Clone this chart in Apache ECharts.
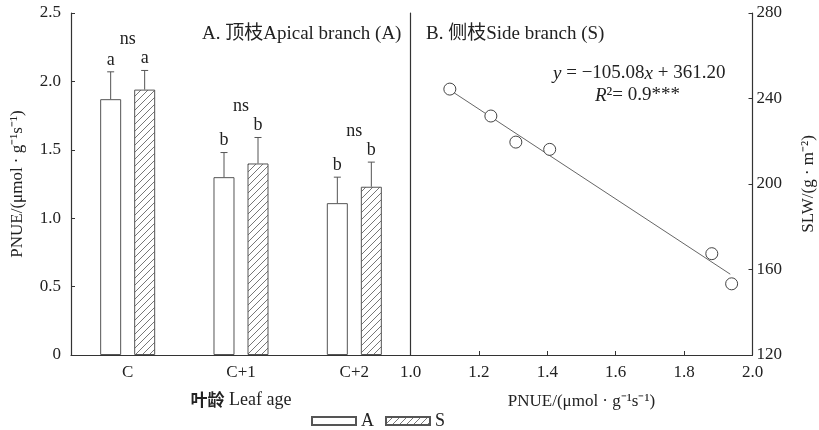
<!DOCTYPE html>
<html><head><meta charset="utf-8">
<script src="https://cdn.jsdelivr.net/npm/echarts@6/dist/echarts.min.js"></script>
<style>html,body{margin:0;padding:0;background:#fff}#c{width:819px;height:430px}</style>
</head><body><div id="c"></div>
<script>
// ---- data ----
const categories = ['C', 'C+1', 'C+2'];
const apicalMean = [1.87, 1.30, 1.11];
const apicalErrTop = [2.07, 1.48, 1.30];
const sideMean = [1.94, 1.40, 1.23];
const sideErrTop = [2.08, 1.59, 1.41];
const apicalSig = ['a', 'b', 'b'];
const sideSig = ['a', 'b', 'b'];
const groupSig = ['ns', 'ns', 'ns'];
const leftTickLabels = ['0', '0.5', '1.0', '1.5', '2.0', '2.5'];
const rightXTickLabels = ['1.0', '1.2', '1.4', '1.6', '1.8', '2.0'];
const scatterX = [1.115, 1.235, 1.308, 1.407, 1.881, 1.939];
const scatterY = [244.4, 231.8, 219.6, 216.2, 167.4, 153.3];
const fitX = [1.11, 1.935];
const fitY = [244.5, 157.8];

const SERIF = '"Liberation Serif","Noto Sans CJK SC",serif';
const TXT = '#222';
const AX = '#333';

function hatchPattern() {
  const s = 7;
  const c = document.createElement('canvas');
  c.width = s; c.height = s;
  const g = c.getContext('2d');
  g.fillStyle = '#fff'; g.fillRect(0, 0, s, s);
  g.strokeStyle = '#777'; g.lineWidth = 1;
  g.beginPath();
  g.moveTo(0, s); g.lineTo(s, 0);
  g.moveTo(-1, 1); g.lineTo(1, -1);
  g.moveTo(s - 1, s + 1); g.lineTo(s + 1, s - 1);
  g.stroke();
  return { image: c, repeat: 'repeat' };
}
const hatch = hatchPattern();

const BAR_OFF = 17;
function errRender(offset, tops, sigs, showGroup) {
  return function (params, api) {
    const i = api.value(0);
    const top = api.coord([i, api.value(2)]);
    const base = api.coord([i, api.value(1)]);
    const x = top[0] + offset;
    const children = [
      { type: 'line', shape: { x1: x, y1: base[1], x2: x, y2: top[1] }, style: { stroke: '#555', lineWidth: 1 } },
      { type: 'line', shape: { x1: x - 3.5, y1: top[1], x2: x + 3.5, y2: top[1] }, style: { stroke: '#555', lineWidth: 1 } },
      { type: 'text', style: { text: sigs[i], x: x, y: top[1] - 3, align: 'center', verticalAlign: 'bottom', fill: TXT, font: '18px ' + SERIF } }
    ];
    if (showGroup) {
      const m = Math.max(apicalErrTop[i], sideErrTop[i]);
      const p = api.coord([i, m]);
      children.push({ type: 'text', style: { text: groupSig[i], x: top[0], y: p[1] - 22, align: 'center', verticalAlign: 'bottom', fill: TXT, font: '18px ' + SERIF } });
    }
    return { type: 'group', children: children };
  };
}

const chart = echarts.init(document.getElementById('c'));
chart.setOption({
  animation: false,
  backgroundColor: '#fff',
  textStyle: { fontFamily: SERIF, color: TXT },
  grid: [
    { left: 71, right: 408, top: 13, bottom: 75 },
    { left: 410.5, right: 66.5, top: 13, bottom: 75 }
  ],
  legend: {
    data: ['A', 'S'], left: 311, top: 412, icon: 'rect', padding: 0,
    itemWidth: 44, itemHeight: 8, itemGap: 11,
    textStyle: { fontSize: 18, fontFamily: SERIF, color: TXT }
  },
  xAxis: [
    {
      type: 'category', gridIndex: 0, data: categories,
      axisLine: { lineStyle: { color: AX, width: 1.2 } },
      axisTick: { inside: true, alignWithLabel: true, length: 4, lineStyle: { color: AX } },
      axisLabel: { fontSize: 17, color: TXT, fontFamily: SERIF, margin: 9 },
      name: '{b|叶龄} Leaf age', nameLocation: 'middle', nameGap: 36,
      nameTextStyle: { fontSize: 18, color: TXT, fontFamily: SERIF, rich: { b: { fontSize: 17, fontWeight: 'bold', fontFamily: '"Noto Sans CJK SC",sans-serif', color: TXT } } }
    },
    {
      type: 'value', gridIndex: 1, min: 1.0, max: 2.0, interval: 0.2,
      axisLine: { lineStyle: { color: AX, width: 1.2 } },
      axisTick: { inside: true, length: 4, lineStyle: { color: AX } },
      splitLine: { show: false },
      axisLabel: { fontSize: 17, color: TXT, fontFamily: SERIF, margin: 9,
        formatter: function (v) { return rightXTickLabels[Math.round((v - 1.0) / 0.2)]; } },
      name: 'PNUE/(μmol · g⁻¹s⁻¹)', nameLocation: 'middle', nameGap: 38,
      nameTextStyle: { fontSize: 17, color: TXT, fontFamily: SERIF }
    }
  ],
  yAxis: [
    {
      type: 'value', gridIndex: 0, min: 0, max: 2.5, interval: 0.5,
      axisLine: { show: true, lineStyle: { color: AX, width: 1.2 } },
      axisTick: { show: true, inside: true, length: 4, lineStyle: { color: AX } },
      splitLine: { show: false },
      axisLabel: { fontSize: 17, color: TXT, fontFamily: SERIF, margin: 10,
        formatter: function (v) { return leftTickLabels[Math.round(v / 0.5)]; } },
      name: 'PNUE/(μmol · g⁻¹s⁻¹)', nameLocation: 'middle', nameGap: 45, nameRotate: 90,
      nameTextStyle: { fontSize: 17, color: TXT, fontFamily: SERIF }
    },
    {
      type: 'value', gridIndex: 1, position: 'right', min: 120, max: 280, interval: 40,
      axisLine: { show: true, lineStyle: { color: AX, width: 1.2 } },
      axisTick: { show: true, inside: true, length: 4, lineStyle: { color: AX } },
      splitLine: { show: false },
      axisLabel: { fontSize: 17, color: TXT, fontFamily: SERIF, margin: 4 },
      name: 'SLW/(g · m⁻²)', nameLocation: 'middle', nameGap: 48, nameRotate: 90,
      nameTextStyle: { fontSize: 17, color: TXT, fontFamily: SERIF }
    },
    {
      type: 'value', gridIndex: 1, position: 'left', min: 120, max: 280,
      axisLine: { show: true, lineStyle: { color: AX, width: 1.2 } },
      axisTick: { show: false }, axisLabel: { show: false }, splitLine: { show: false }
    }
  ],
  series: [
    {
      name: 'A', type: 'bar', xAxisIndex: 0, yAxisIndex: 0, data: apicalMean,
      barWidth: 21, barGap: '62%',
      itemStyle: { color: '#fff', borderColor: '#555', borderWidth: 1 }
    },
    {
      name: 'S', type: 'bar', xAxisIndex: 0, yAxisIndex: 0, data: sideMean,
      barWidth: 21, barGap: '62%',
      itemStyle: { color: hatch, borderColor: '#555', borderWidth: 1 }
    },
    {
      type: 'custom', xAxisIndex: 0, yAxisIndex: 0, z: 5,
      data: categories.map((c, i) => [i, apicalMean[i], apicalErrTop[i]]),
      renderItem: errRender(-BAR_OFF, apicalErrTop, apicalSig, false)
    },
    {
      type: 'custom', xAxisIndex: 0, yAxisIndex: 0, z: 5,
      data: categories.map((c, i) => [i, sideMean[i], sideErrTop[i]]),
      renderItem: errRender(BAR_OFF, sideErrTop, sideSig, true)
    },
    {
      type: 'line', xAxisIndex: 1, yAxisIndex: 1, symbol: 'none', z: 2,
      data: fitX.map((x, i) => [x, fitY[i]]),
      lineStyle: { color: '#666', width: 1 }
    },
    {
      type: 'scatter', xAxisIndex: 1, yAxisIndex: 1, z: 3, symbolSize: 12,
      data: scatterX.map((x, i) => [x, scatterY[i]]),
      itemStyle: { color: '#fff', borderColor: '#444', borderWidth: 1, opacity: 1 }
    }
  ],
  graphic: [
    { type: 'text', left: 202, top: 25, style: { text: 'A. 顶枝Apical branch (A)', fill: TXT, font: '19px ' + SERIF } },
    { type: 'text', left: 426, top: 25, style: { text: 'B. 侧枝Side branch (S)', fill: TXT, font: '19px ' + SERIF } },
    { type: 'text', left: 553, top: 64, style: {
        text: '{i|y} = −105.08{i|x} + 361.20', fill: TXT, fontSize: 19, fontFamily: SERIF,
        rich: { i: { fontStyle: 'italic', fontSize: 19, fontFamily: '"Liberation Serif",serif', fill: TXT } } } },
    { type: 'text', left: 595, top: 86, style: {
        text: '{i|R}²= 0.9***', fill: TXT, fontSize: 19, fontFamily: SERIF,
        rich: { i: { fontStyle: 'italic', fontSize: 19, fontFamily: '"Liberation Serif",serif', fill: TXT } } } }
  ]
});
</script>
</body></html>
